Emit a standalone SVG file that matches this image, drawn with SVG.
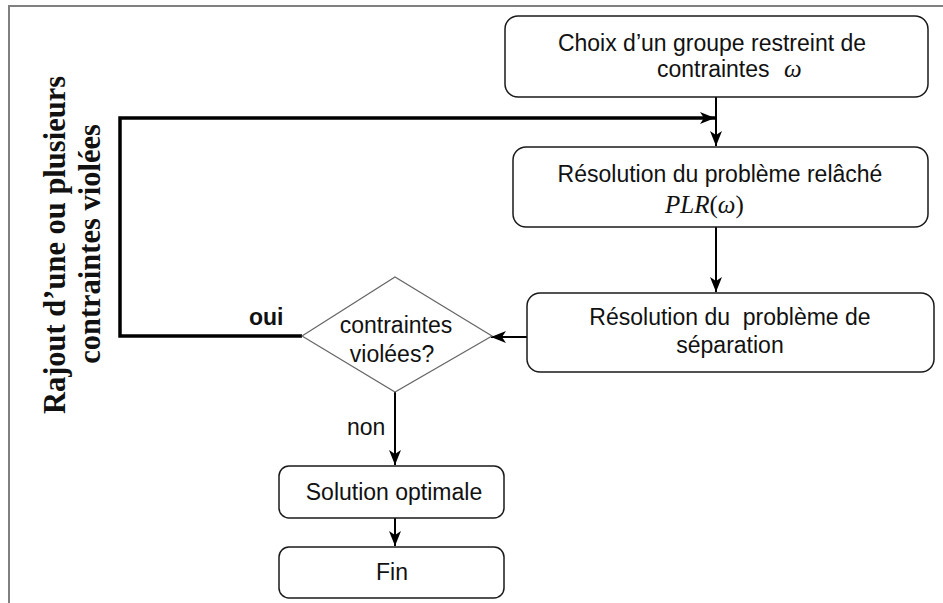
<svg xmlns="http://www.w3.org/2000/svg" width="943" height="603" viewBox="0 0 943 603">
<style>
.box{fill:#fff;stroke:#1a1a1a;stroke-width:1.5}
.dia{fill:#fff;stroke:#666;stroke-width:1.2}
.t{font-family:"Liberation Sans",Arial,sans-serif;font-size:23px;fill:#111}
.tc{text-anchor:middle}
.m{font-family:"Liberation Serif","Times New Roman",serif;font-style:italic;font-size:25px;fill:#111}
.up{font-style:normal}
.rot{font-family:"Liberation Serif","Times New Roman",serif;font-weight:bold;font-size:30.5px;fill:#111;text-anchor:middle}
.c{fill:none;stroke:#000;stroke-width:2}
.ct{fill:none;stroke:#000;stroke-width:3.5}
.frame{fill:none;stroke:#808080;stroke-width:2}
</style>
<defs>
<marker id="ah" markerUnits="userSpaceOnUse" markerWidth="16" markerHeight="12" refX="15" refY="6" orient="auto">
<path d="M0,0 L15,6 L0,12 L4,6 z" fill="#000"/>
</marker>
</defs>
<rect width="943" height="603" fill="#fff"/>
<path class="frame" d="M9,603 V6 H943"/>

<g id="connectors">
<path class="c" d="M716,97 V146" marker-end="url(#ah)"/>
<path class="ct" d="M302,336 H120 V118 H715" marker-end="url(#ah)"/>
<path class="c" d="M716,227 V292" marker-end="url(#ah)"/>
<path class="c" d="M527,337 H491" marker-end="url(#ah)"/>
<path class="c" d="M395,392 V465" marker-end="url(#ah)"/>
<path class="c" d="M395,518 V546" marker-end="url(#ah)"/>
<text class="t" x="249" y="325" style="font-weight:bold">oui</text>
<text class="t" x="347" y="435">non</text>
</g>

<g id="label-left">
<text class="rot" transform="translate(65,245) rotate(-90)">Rajout d’une ou plusieurs</text>
<text class="rot" transform="translate(100,244) rotate(-90)">contraintes violées</text>
</g>

<g id="n1">
<rect class="box" x="505" y="16" width="423" height="81" rx="13"/>
<text class="t tc" x="712" y="51">Choix d’un groupe restreint de</text>
<text class="t" x="657" y="77">contraintes<tspan class="m" x="784">ω</tspan></text>
</g>

<g id="n2">
<rect class="box" x="513" y="147" width="415" height="80" rx="13"/>
<text class="t tc" x="720" y="182">Résolution du problème relâché</text>
<text class="m" x="665" y="213">PLR<tspan class="up">(</tspan>ω<tspan class="up">)</tspan></text>
</g>

<g id="n3">
<rect class="box" x="527" y="293" width="407" height="79" rx="13"/>
<text class="t tc" x="730" y="325" xml:space="preserve">Résolution du  problème de</text>
<text class="t tc" x="730" y="353">séparation</text>
</g>

<g id="n4">
<polygon class="dia" points="302,336 395,277 492,336 395,392"/>
<text class="t tc" x="396" y="333">contraintes</text>
<text class="t tc" x="392" y="362">violées?</text>
</g>

<g id="n5">
<rect class="box" x="279" y="466" width="225" height="52" rx="10"/>
<text class="t tc" x="394" y="500">Solution optimale</text>
</g>

<g id="n6">
<rect class="box" x="279" y="547" width="225" height="51" rx="10"/>
<text class="t tc" x="392" y="580">Fin</text>
</g>
</svg>
